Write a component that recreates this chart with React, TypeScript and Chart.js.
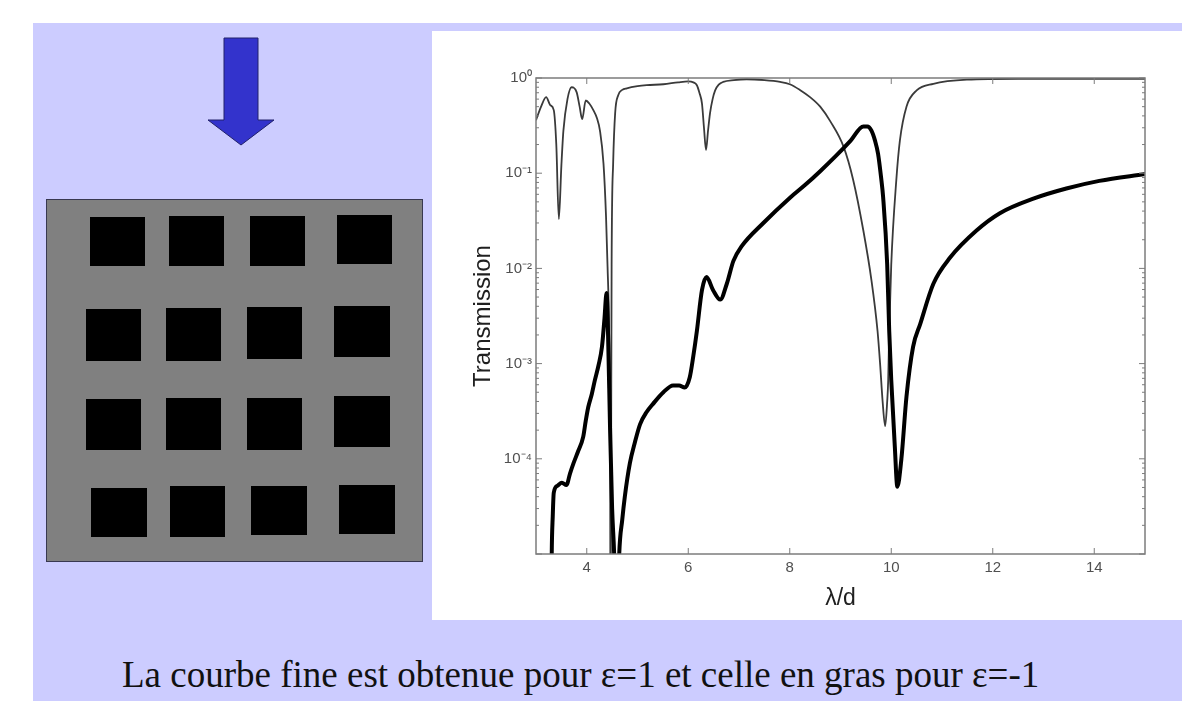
import React, { useEffect, useRef } from 'react';
import { Chart, registerables } from 'chart.js';

Chart.register(...registerables);

// ---- Data ----
// Thin curve: epsilon = 1
const THIN_X = [
  3.0, 3.1, 3.2, 3.28, 3.35, 3.4, 3.45, 3.5, 3.54, 3.62, 3.7, 3.8, 3.86, 3.91, 3.98, 4.05, 4.13, 4.2, 4.26, 4.33,
  4.38, 4.41, 4.44, 4.46, 4.47, 4.48, 4.49, 4.52, 4.56, 4.62, 4.7, 4.79, 5.0, 5.18, 5.51, 5.8, 6.0, 6.1, 6.17, 6.22,
  6.27, 6.31, 6.35, 6.39, 6.43, 6.48, 6.53, 6.6, 6.69, 6.9, 7.15, 7.5, 7.81, 8.0, 8.2, 8.4, 8.6, 8.8, 9.06,
  9.25, 9.45, 9.61, 9.73, 9.78, 9.83, 9.88, 9.92, 9.94, 9.96, 10.0, 10.1, 10.17, 10.3, 10.5, 10.83, 11.49, 12.5, 15.0,
];
const THIN_Y = [
  0.36, 0.5, 0.63, 0.52, 0.46, 0.2, 0.033, 0.12, 0.28, 0.6, 0.8, 0.71, 0.5, 0.37, 0.58, 0.54, 0.46, 0.38, 0.28, 0.126,
  0.035, 0.0104, 0.0022, 0.0001, 0.000001, 0.0001, 0.011, 0.126, 0.43, 0.66, 0.75, 0.78, 0.82, 0.84, 0.86, 0.9, 0.92, 0.9, 0.84, 0.7,
  0.54, 0.3, 0.175, 0.28, 0.43, 0.6, 0.74, 0.85, 0.91, 0.95, 0.97, 0.95, 0.91, 0.86, 0.75, 0.63, 0.5, 0.35, 0.19,
  0.085, 0.025, 0.0075, 0.0022, 0.001, 0.0004, 0.00022, 0.0004, 0.00067, 0.0022, 0.011, 0.085, 0.22, 0.5, 0.74, 0.87, 0.96, 0.98, 0.98,
];

// Thick curve: epsilon = -1
const THICK_X = [
  3.28, 3.31, 3.33, 3.35, 3.42, 3.51, 3.6, 3.67, 3.74, 3.83, 3.93, 3.98, 4.03, 4.1, 4.16, 4.23, 4.3, 4.35, 4.39, 4.42,
  4.46, 4.5, 4.54, 4.59, 4.64, 4.7, 4.75, 4.85, 4.95, 5.05, 5.18, 5.31, 5.51, 5.7, 5.82, 5.93, 6.03, 6.1, 6.17, 6.27,
  6.36, 6.49, 6.63, 6.76, 6.89, 7.05, 7.48, 8.0, 8.3, 8.6, 8.9, 9.2, 9.45, 9.53, 9.61, 9.68, 9.74, 9.8, 9.84,
  9.92, 9.96, 10.0, 10.07, 10.12, 10.2, 10.3, 10.43, 10.57, 10.83, 11.16, 11.68, 12.14, 12.8, 13.45, 14.1, 15.0,
];
const THICK_Y = [
  0.0000001, 0.00001, 0.000025, 0.000044, 0.000052, 0.000056, 0.000053, 0.00007, 0.00009, 0.00012, 0.00017, 0.00025, 0.00035, 0.00048, 0.00067, 0.00095, 0.0015, 0.003, 0.0055, 0.002,
  0.0002, 0.00003, 0.00001, 0.000001, 0.00001, 0.000023, 0.00004, 0.00009, 0.00015, 0.00023, 0.00031, 0.00038, 0.0005, 0.00059, 0.00059, 0.00056, 0.00072, 0.0012, 0.0022, 0.0059,
  0.0081, 0.0059, 0.0047, 0.0069, 0.012, 0.017, 0.03, 0.055, 0.075, 0.105, 0.15, 0.22, 0.31, 0.31, 0.28, 0.22, 0.16, 0.09, 0.056,
  0.011, 0.0022, 0.00067, 0.000135, 0.000051, 0.0001, 0.00045, 0.0015, 0.0026, 0.0069, 0.013, 0.025, 0.038, 0.054, 0.069, 0.083, 0.098,
];

const X_MIN = 3;
const X_MAX = 15;
const X_TICKS = [4, 6, 8, 10, 12, 14];
const Y_DECADES = [1e-5, 1e-4, 1e-3, 1e-2, 1e-1, 1];
const Y_TICK_LABELS = ['', '10\u207B\u2074', '10\u207B\u00B3', '10\u207B\u00B2', '10\u207B\u00B9', '10\u2070'];
const Y_MINOR_MULTIPLIERS = [2, 3, 4, 5, 6, 7, 8, 9];

const X_TITLE = '\u03BB/d';
const Y_TITLE = 'Transmission';
const CAPTION = 'La courbe fine est obtenue pour \u03B5=1 et celle en gras pour \u03B5=-1';

// ---- Decoration (left side of the slide) ----
const HOLES: [number, number, number, number][] = [
  [90, 217, 55, 49], [169, 216, 55, 50], [250, 216, 55, 50], [337, 215, 55, 49],
  [86, 309, 55, 52], [166, 308, 55, 53], [247, 307, 55, 52], [334, 306, 56, 51],
  [86, 399, 55, 51], [166, 398, 55, 52], [247, 398, 55, 52], [334, 396, 56, 51],
  [91, 488, 56, 49], [170, 486, 55, 51], [251, 486, 56, 49], [339, 485, 56, 49],
];

const isDecade = (v: number) => Y_DECADES.some((d) => Math.abs(v / d - 1) < 1e-6);

const framePlugin = {
  id: 'frameTicks',
  afterDatasetsDraw(chart: any) {
    const { ctx, chartArea: a, scales } = chart;
    ctx.save();
    ctx.strokeStyle = '#7c7c7c';
    ctx.lineWidth = 1.5;
    ctx.strokeRect(a.left, a.top, a.right - a.left, a.bottom - a.top);
    ctx.lineWidth = 1;
    ctx.beginPath();
    for (const t of scales.x.ticks) {
      const px = scales.x.getPixelForValue(t.value);
      ctx.moveTo(px, a.bottom);
      ctx.lineTo(px, a.bottom - 6);
      ctx.moveTo(px, a.top);
      ctx.lineTo(px, a.top + 6);
    }
    for (const t of scales.y.ticks) {
      const py = scales.y.getPixelForValue(t.value);
      const len = isDecade(t.value) ? 6 : 3;
      ctx.moveTo(a.left, py);
      ctx.lineTo(a.left + len, py);
      ctx.moveTo(a.right, py);
      ctx.lineTo(a.right - len, py);
    }
    ctx.stroke();
    ctx.restore();
  },
};

function TransmissionChart() {
  const ref = useRef<HTMLCanvasElement | null>(null);
  useEffect(() => {
    if (!ref.current) return;
    const thin = THIN_X.map((x, i) => ({ x, y: THIN_Y[i] }));
    const thick = THICK_X.map((x, i) => ({ x, y: THICK_Y[i] }));
    const chart = new Chart(ref.current, {
      type: 'line',
      data: {
        datasets: [
          {
            label: '\u03B5=-1',
            data: thick,
            borderColor: '#000000',
            borderWidth: 4,
            pointRadius: 0,
            cubicInterpolationMode: 'monotone',
            borderJoinStyle: 'round',
            borderCapStyle: 'round',
          },
          {
            label: '\u03B5=1',
            data: thin,
            borderColor: '#3a3a3a',
            borderWidth: 1.8,
            pointRadius: 0,
            cubicInterpolationMode: 'monotone',
            borderJoinStyle: 'round',
          },
        ],
      },
      plugins: [framePlugin],
      options: {
        animation: false,
        responsive: false,
        layout: { padding: { left: 0, top: 47, right: 37, bottom: 0 } },
        plugins: { legend: { display: false }, tooltip: { enabled: false } },
        scales: {
          x: {
            type: 'linear',
            min: X_MIN,
            max: X_MAX,
            afterBuildTicks: (s: any) => {
              s.ticks = X_TICKS.map((v) => ({ value: v }));
            },
            afterFit: (s: any) => {
              s.height = 66;
            },
            grid: { display: false, drawTicks: false },
            border: { display: false },
            ticks: {
              autoSkip: false,
              maxRotation: 0,
              padding: 5,
              color: '#505050',
              font: { family: 'Liberation Sans, Arial, sans-serif', size: 15 },
            },
            title: {
              display: true,
              text: X_TITLE,
              color: '#202020',
              font: { family: 'Liberation Sans, Arial, sans-serif', size: 23 },
              padding: { top: 0, bottom: 8 },
            },
          },
          y: {
            type: 'logarithmic',
            min: 1e-5,
            max: 1,
            afterBuildTicks: (s: any) => {
              const list: { value: number }[] = [];
              Y_DECADES.forEach((d, i) => {
                list.push({ value: d });
                if (i < Y_DECADES.length - 1) {
                  Y_MINOR_MULTIPLIERS.forEach((m) => list.push({ value: m * d }));
                }
              });
              s.ticks = list;
            },
            afterFit: (s: any) => {
              s.width = 104;
            },
            grid: { display: false, drawTicks: false },
            border: { display: false },
            ticks: {
              autoSkip: false,
              padding: 4,
              color: '#505050',
              font: { family: 'Liberation Sans, Arial, sans-serif', size: 15 },
              callback: (value: any) => {
                const idx = Y_DECADES.findIndex((d) => Math.abs(Number(value) / d - 1) < 1e-6);
                return idx >= 0 ? Y_TICK_LABELS[idx] : '';
              },
            },
            title: {
              display: true,
              text: Y_TITLE,
              color: '#202020',
              font: { family: 'Liberation Sans, Arial, sans-serif', size: 24 },
              padding: { top: 37, bottom: 0 },
            },
          },
        },
      } as any,
    });
    return () => chart.destroy();
  }, []);
  return <canvas ref={ref} width={750} height={589} style={{ display: 'block', width: 750, height: 589 }} />;
}

export default function App() {
  return (
    <div style={{ position: 'fixed', left: 0, top: 0, width: 1182, height: 701, background: '#ffffff', overflow: 'hidden' }}>
      <div style={{ position: 'absolute', left: 33, top: 23, width: 1149, height: 678, background: '#ccccff' }} />
      <svg style={{ position: 'absolute', left: 0, top: 0 }} width={430} height={200}>
        <polygon
          points="224,38 258,38 258,120 274,120 241,145 208,120 224,120"
          fill="#3333cc"
          stroke="#22226a"
          strokeWidth={1}
        />
      </svg>
      <div
        style={{
          position: 'absolute',
          left: 46,
          top: 199,
          width: 377,
          height: 363,
          background: '#808080',
          border: '1px solid #383850',
          boxSizing: 'border-box',
        }}
      />
      {HOLES.map(([x, y, w, h], i) => (
        <div key={i} style={{ position: 'absolute', left: x, top: y, width: w, height: h, background: '#000000' }} />
      ))}
      <div style={{ position: 'absolute', left: 432, top: 31, width: 750, height: 589, background: '#ffffff' }}>
        <TransmissionChart />
      </div>
      <div
        style={{
          position: 'absolute',
          left: 122,
          top: 656,
          fontFamily: '"Liberation Serif", "Times New Roman", serif',
          fontSize: 37,
          lineHeight: '37px',
          color: '#111111',
          whiteSpace: 'nowrap',
        }}
      >
        {CAPTION}
      </div>
    </div>
  );
}
